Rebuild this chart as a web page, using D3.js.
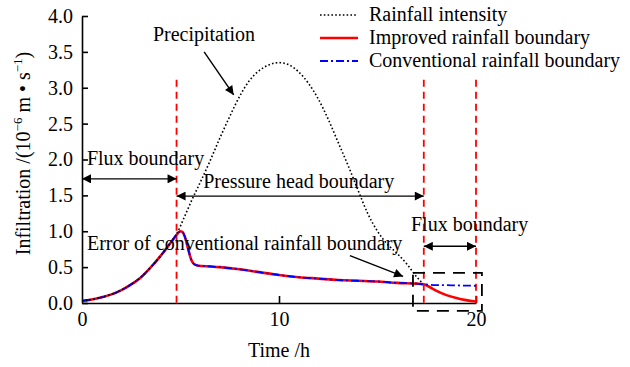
<!DOCTYPE html>
<html>
<head>
<meta charset="utf-8">
<script src="https://cdnjs.cloudflare.com/ajax/libs/d3/7.8.5/d3.min.js"></script>
<style>
  body { margin: 0; background: #fff; }
  svg text { font-family: "Liberation Serif", "Times New Roman", serif; fill: #000; }
</style>
</head>
<body>
<svg id="chart"></svg>
<script>
// shared part of the infiltration curves (both boundaries agree up to ~17.35 h)
const sharedTime = [0, 0.5, 1, 1.5, 2, 2.5, 3, 3.5, 4, 4.5, 4.8, 5.0, 5.1, 5.25, 5.4, 5.55, 5.7, 5.9, 6.5, 7, 8, 9, 10, 11, 12, 13, 14, 15, 16, 17, 17.35];
const sharedValue = [0.03, 0.05, 0.08, 0.12, 0.18, 0.26, 0.36, 0.5, 0.66, 0.84, 0.95, 1.0, 0.99, 0.9, 0.74, 0.6, 0.54, 0.52, 0.51, 0.5, 0.47, 0.43, 0.39, 0.36, 0.34, 0.32, 0.31, 0.3, 0.28, 0.27, 0.26];
// after the last flux switch
const tailTime = [17.6, 18, 18.5, 19, 19.5, 20];
const improvedTail = [0.23, 0.17, 0.11, 0.07, 0.04, 0.02];
const conventionalTail = [0.255, 0.25, 0.248, 0.245, 0.242, 0.24];
// rainfall intensity
const rainTime = [0, 0.5, 1, 1.5, 2, 2.5, 3, 3.5, 4, 4.5, 4.8, 5.2, 5.6, 6, 6.5, 7, 7.5, 8, 8.5, 9, 9.5, 10, 10.5, 11, 11.5, 12, 12.5, 13, 13.5, 14, 14.5, 15, 15.5, 16, 16.5, 17, 17.3];
const rainValue = [0.03, 0.05, 0.08, 0.12, 0.18, 0.26, 0.36, 0.5, 0.66, 0.84, 0.96, 1.2, 1.45, 1.68, 1.98, 2.3, 2.6, 2.88, 3.1, 3.24, 3.32, 3.35, 3.32, 3.22, 3.06, 2.84, 2.56, 2.24, 1.92, 1.58, 1.25, 1.0, 0.82, 0.69, 0.54, 0.36, 0.27];
// boundary switch times
const switchTimes = [4.8, 17.35, 20];
const xTicks = [0, 10, 20];
const yTicks = [0, 0.5, 1, 1.5, 2, 2.5, 3, 3.5, 4];
const legendLabels = ['Rainfall intensity', 'Improved rainfall boundary', 'Conventional rainfall boundary'];

const svgWidth = 630, svgHeight = 367;
const margin = { top: 16, right: 154, bottom: 64, left: 82 },
    width = svgWidth - margin.left - margin.right,
    height = svgHeight - margin.top - margin.bottom;
const fontSize = '20px';

const svg = d3.select('#chart').attr('width', svgWidth).attr('height', svgHeight);
const defs = svg.append('defs');
defs.append('marker')
    .attr('id', 'arrow')
    .attr('viewBox', '0 0 10 10')
    .attr('refX', 10).attr('refY', 5)
    .attr('markerWidth', 11).attr('markerHeight', 9)
    .attr('markerUnits', 'userSpaceOnUse')
    .attr('orient', 'auto-start-reverse')
    .append('path').attr('d', 'M0,0 L10,5 L0,10 Z').attr('fill', '#000');

const g = svg.append('g').attr('transform', 'translate(' + margin.left + ',' + margin.top + ')');

const x = d3.scaleLinear().domain([0, 20]).range([0, width]);
const y = d3.scaleLinear().domain([0, 4]).range([height, 0]);

const line = d3.line()
    .x(d => x(d[0]))
    .y(d => y(d[1]))
    .curve(d3.curveMonotoneX);

const zip = (a, b) => a.map((v, i) => [v, b[i]]);
const shared = zip(sharedTime, sharedValue);
const improved = shared.concat(zip(tailTime, improvedTail));
const conventional = shared.concat(zip(tailTime, conventionalTail));
const rain = zip(rainTime, rainValue);

// axes
const yAxis = d3.axisLeft(y).tickValues(yTicks).tickFormat(d3.format('.1f'))
    .tickSizeInner(-6).tickSizeOuter(0).tickPadding(9);
const yg = g.append('g').call(yAxis);
const xAxis = d3.axisBottom(x).tickValues(xTicks).tickFormat(d3.format('d'))
    .tickSizeInner(-7).tickSizeOuter(0).tickPadding(9);
const xg = g.append('g').attr('transform', 'translate(0,' + height + ')').call(xAxis);
[yg, xg].forEach(a => {
    a.selectAll('path, line').attr('stroke', '#000').attr('stroke-width', 1.6);
    a.selectAll('text').style('font-size', fontSize).style('font-family', '"Liberation Serif", serif');
});
xg.selectAll('.tick').filter(d => d === 0).select('line').remove();

// red switch lines
g.selectAll('.switch').data(switchTimes).enter().append('line')
    .attr('class', 'switch')
    .attr('x1', d => x(d)).attr('x2', d => x(d))
    .attr('y1', y(3.11)).attr('y2', y(0))
    .attr('stroke', '#ff0000').attr('stroke-width', 1.8)
    .attr('stroke-dasharray', '7,5');

// curves
g.append('path').datum(improved).attr('d', line)
    .attr('fill', 'none').attr('stroke', '#ff0000').attr('stroke-width', 2.6);
g.append('path').datum(conventional).attr('d', line)
    .attr('fill', 'none').attr('stroke', '#0000ff').attr('stroke-width', 1.8)
    .attr('stroke-dasharray', '8,3,2,3');
g.append('path').datum(rain).attr('d', line)
    .attr('fill', 'none').attr('stroke', '#000').attr('stroke-width', 1.6)
    .attr('stroke-dasharray', '1.6,2.2');

// dashed zoom box around the end of the record
const bx0 = x(16.8), bx1 = x(20.3), by0 = y(0.42), by1 = y(-0.11);
g.append('path')
    .attr('d', 'M' + bx0 + ',' + by0 + 'L' + bx1 + ',' + by0 + 'L' + bx1 + ',' + by1 + 'L' + bx0 + ',' + by1 + 'Z')
    .attr('fill', 'none').attr('stroke', '#000').attr('stroke-width', 1.8)
    .attr('stroke-dasharray', '12,8');

// annotations
const label = (t, v, txt) => g.append('text').attr('x', x(t)).attr('y', y(v))
    .style('font-size', fontSize).text(txt);
const arrow = (t1, v1, t2, v2, both) => g.append('line')
    .attr('x1', x(t1)).attr('y1', y(v1)).attr('x2', x(t2)).attr('y2', y(v2))
    .attr('stroke', '#000').attr('stroke-width', 1.4)
    .attr('marker-end', 'url(#arrow)')
    .attr('marker-start', both ? 'url(#arrow)' : null);

label(3.6, 3.65, 'Precipitation');
arrow(6.2, 3.5, 7.7, 2.9, false);
label(0.25, 1.92, 'Flux boundary');
arrow(0, 1.73, 4.8, 1.73, true);
label(6.15, 1.6, 'Pressure head boundary');
arrow(4.8, 1.49, 17.35, 1.49, true);
label(16.7, 1.0, 'Flux boundary');
arrow(17.35, 0.79, 20, 0.79, true);
label(0.25, 0.74, 'Error of conventional rainfall boundary');
arrow(13.6, 0.66, 16.3, 0.37, false);

// legend
const legend = svg.append('g').attr('transform', 'translate(320,15)');
const legendStyles = [
    { stroke: '#000', width: 1.6, dash: '1.6,2.2' },
    { stroke: '#ff0000', width: 2.6, dash: null },
    { stroke: '#0000ff', width: 1.8, dash: '8,3,2,3' }
];
legendLabels.forEach((txt, i) => {
    const row = legend.append('g').attr('transform', 'translate(0,' + (i * 23) + ')');
    row.append('line').attr('x1', 0).attr('x2', 38).attr('y1', 0).attr('y2', 0)
        .attr('stroke', legendStyles[i].stroke).attr('stroke-width', legendStyles[i].width)
        .attr('stroke-dasharray', legendStyles[i].dash);
    row.append('text').attr('x', 49).attr('y', 6).style('font-size', fontSize).text(txt);
});

// axis titles
svg.append('text')
    .attr('transform', 'translate(30,' + (margin.top + height / 2 - 6) + ') rotate(-90)')
    .attr('text-anchor', 'middle').style('font-size', fontSize)
    .html('Infiltration /(10<tspan dy="-8" font-size="13">\u22126</tspan><tspan dy="8"> m \u2022 s</tspan><tspan dy="-8" font-size="13">\u22121</tspan><tspan dy="8">)</tspan>');
svg.append('text')
    .attr('x', margin.left + x(10)).attr('y', 357)
    .attr('text-anchor', 'middle').style('font-size', fontSize)
    .text('Time /h');
</script>
</body>
</html>
